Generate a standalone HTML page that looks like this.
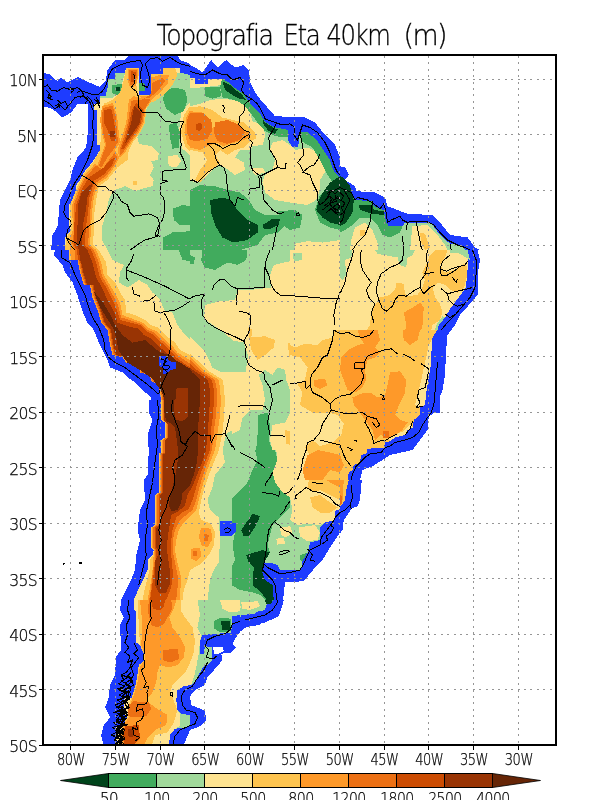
<!DOCTYPE html>
<html><head><meta charset="utf-8"><title>Topografia Eta 40km (m)</title>
<style>
html,body{margin:0;padding:0;background:#fff;}
body{width:600px;height:800px;overflow:hidden;position:relative;}
svg{position:absolute;left:0;top:0;display:block;}
.lbl text{font-family:"DejaVu Sans Light","DejaVu Sans","Liberation Sans",sans-serif;font-weight:200;font-size:15.5px;fill:#000;stroke:#000;stroke-width:0.25px;letter-spacing:-0.6px;}
.ttl{font-family:"DejaVu Sans Light","DejaVu Sans","Liberation Sans",sans-serif;font-weight:200;font-size:28px;fill:#000;stroke:#000;stroke-width:0.3px;letter-spacing:-1.6px;}
</style></head><body>
<svg width="600" height="800" viewBox="0 0 600 800">
<rect x="0" y="0" width="600" height="800" fill="#fff"/>
<defs><clipPath id="fr"><rect x="43" y="55" width="513" height="690"/></clipPath><clipPath id="cpM"><rect x="115" y="400" width="117" height="200"/></clipPath><clipPath id="cpS"><rect x="90" y="600" width="150" height="146"/></clipPath><clipPath id="cpP"><rect x="290" y="330" width="150" height="150"/></clipPath></defs>
<g clip-path="url(#fr)" shape-rendering="crispEdges">
<polygon points="43.0,73.2 48.8,73.8 57.5,81.2 61.2,77.5 67.5,82.5 77.5,77.0 86.2,81.2 100.0,87.0 105.5,81.2 107.5,70.0 115.0,60.0 125.0,60.0 128.8,56.2 140.0,55.0 177.5,55.0 180.0,60.0 190.0,63.8 190.0,250.0 51.2,250.0 52.5,235.0 55.5,230.0 58.0,225.0 58.8,212.5 60.0,200.0 65.0,190.0 70.0,180.0 72.5,170.0 77.5,157.5 86.2,147.5 87.5,135.0 87.5,103.8 77.5,103.8 71.2,112.5 62.5,117.5 52.5,108.8 43.0,106.2" fill="#1e3cff"/>
<polygon points="190.0,65.0 197.5,68.8 202.5,72.5 211.2,60.0 217.5,67.5 226.2,60.0 235.0,67.5 243.8,65.0 248.8,70.0 250.0,82.5 257.5,96.2 275.0,116.2 305.0,117.5 315.0,122.5 325.0,135.0 335.0,145.0 340.0,157.5 340.0,250.0 190.0,250.0" fill="#1e3cff"/>
<polygon points="340.0,166.2 345.0,167.5 348.8,175.0 345.0,180.0 355.0,186.2 356.2,191.2 375.0,192.5 385.0,197.5 387.5,206.2 397.5,210.0 407.5,213.8 432.5,215.0 440.0,222.5 450.0,235.0 467.5,237.5 475.0,247.5 480.0,250.0 340.0,250.0" fill="#1e3cff"/>
<polygon points="55.0,250.0 53.8,255.0 62.5,265.0 65.0,272.5 72.5,282.5 77.5,295.0 80.0,303.8 83.8,315.0 87.5,322.5 93.8,330.0 98.8,342.5 102.5,350.0 107.5,360.0 110.0,367.5 122.5,372.5 127.5,377.5 135.0,382.5 142.5,390.0 151.2,397.5 150.0,410.0 153.8,420.0 151.2,430.0 147.5,437.5 147.5,450.0 190.0,450.0 190.0,250.0" fill="#1e3cff"/>
<polygon points="340.0,250.0 477.5,250.0 480.0,260.0 477.5,275.0 477.5,295.0 470.0,303.8 460.0,315.0 455.0,325.0 447.5,335.0 446.2,350.0 445.0,375.0 442.5,390.0 438.8,400.0 435.0,410.0 432.5,416.2 427.5,420.0 426.2,435.0 420.0,445.0 415.0,450.0 340.0,450.0" fill="#1e3cff"/>
<polygon points="147.5,450.0 147.5,475.0 143.8,480.0 145.0,505.0 140.0,512.5 140.0,527.5 137.5,532.5 140.0,542.5 138.8,560.0 133.8,570.0 133.8,582.5 127.5,597.5 121.2,602.5 120.0,612.5 125.0,620.0 122.5,630.0 120.0,640.0 120.0,650.0 190.0,650.0 190.0,450.0" fill="#1e3cff"/>
<polygon points="190.0,450.0 340.0,450.0 340.0,532.5 330.0,547.5 322.5,560.0 315.0,567.5 303.8,581.2 285.0,582.5 282.5,605.0 278.8,616.2 265.0,622.5 247.5,626.2 238.8,632.5 236.2,642.5 237.5,647.5 227.5,650.0 190.0,650.0" fill="#1e3cff"/>
<polygon points="340.0,450.0 412.5,450.0 410.0,455.0 390.0,456.2 382.5,462.5 372.5,465.0 362.5,472.5 360.0,500.0 357.5,506.2 351.2,508.8 347.5,515.0 343.8,520.0 342.5,530.0 340.0,533.8" fill="#1e3cff"/>
<polygon points="120.0,600.0 120.0,610.0 123.8,617.5 120.0,627.5 120.0,650.0 115.0,657.5 115.0,672.5 107.5,687.5 106.2,700.0 103.8,710.0 108.8,717.5 102.5,725.0 101.2,735.0 105.0,745.0 190.0,745.0 190.0,600.0" fill="#1e3cff"/>
<polygon points="283.8,600.0 280.0,612.5 270.0,618.8 258.8,625.0 243.8,627.5 236.2,632.5 235.0,641.2 237.5,646.2 231.2,652.5 220.0,653.8 222.5,660.0 215.0,670.0 207.5,677.5 205.0,685.0 195.0,690.0 190.0,696.2 190.0,600.0" fill="#1e3cff"/>
<polygon points="190.0,701.2 196.2,706.2 205.0,710.0 205.5,720.0 200.0,726.2 190.0,730.0" fill="#1e3cff"/>
<polygon points="115.0,73.0 126.2,73.0 126.2,67.5 138.8,67.5 138.8,95.0 151.2,95.0 151.2,73.8 162.5,73.8 162.5,67.5 180.0,67.5 180.0,72.5 190.0,75.0 190.0,250.0 65.0,250.0 65.0,237.5 71.2,230.0 68.8,225.0 68.8,205.0 72.5,200.0 76.2,193.8 76.2,185.0 80.0,180.0 83.8,172.5 90.0,165.0 93.8,160.0 97.0,155.0 100.0,150.0 100.0,145.0 97.0,145.0 97.0,110.0 93.8,110.0 93.8,103.8 100.0,103.8 100.0,96.2 105.5,96.2 107.5,87.5 107.5,78.8 115.0,78.8" fill="#a1d99b"/>
<polygon points="190.0,77.5 195.0,77.5 195.0,83.8 207.5,83.8 207.5,78.8 222.5,78.8 230.0,83.2 235.0,88.2 243.2,93.2 250.0,103.2 260.0,113.2 265.0,121.8 273.2,126.8 288.2,130.0 288.2,140.0 291.8,146.8 298.2,146.8 300.0,131.8 306.8,131.8 316.8,140.0 323.2,150.0 330.0,160.0 333.2,170.0 340.0,178.2 340.0,250.0 190.0,250.0" fill="#a1d99b"/>
<polygon points="340.0,178.8 345.0,185.0 350.0,190.0 355.0,200.0 372.5,201.2 373.8,206.2 383.8,210.0 386.2,222.5 388.8,226.2 402.5,226.2 405.0,222.5 427.5,222.5 432.5,225.0 440.0,235.0 450.0,243.8 460.0,245.0 465.0,250.0 340.0,250.0" fill="#a1d99b"/>
<polygon points="68.8,250.0 68.8,260.0 77.5,260.0 80.0,272.5 83.8,285.0 90.0,285.0 92.5,297.5 97.5,310.0 101.2,322.5 107.5,330.0 110.0,345.0 112.5,355.0 122.5,357.5 126.2,362.5 140.0,365.0 140.0,372.5 150.0,375.0 151.2,381.2 157.5,383.8 160.0,392.5 162.5,410.0 165.0,425.0 162.5,430.0 162.5,450.0 190.0,450.0 190.0,250.0" fill="#a1d99b"/>
<polygon points="340.0,508.8 335.0,511.2 335.0,520.0 325.0,522.5 320.0,527.5 320.0,540.0 310.0,542.5 307.5,552.5 302.5,561.2 301.2,570.0 280.0,570.0 277.5,565.0 270.0,562.5 263.8,562.5 262.5,572.5 265.0,580.0 272.5,585.0 273.8,600.0 267.5,602.5 265.0,610.0 253.8,612.5 240.0,615.0 230.0,621.2 227.5,630.0 220.0,633.8 202.5,635.0 198.8,640.0 198.8,650.0 190.0,650.0 190.0,450.0 340.0,450.0" fill="#a1d99b"/>
<polygon points="267.5,600.0 265.0,608.8 257.5,610.0 255.0,613.8 241.2,615.0 240.0,618.8 230.0,620.0 227.5,632.5 205.0,633.8 202.5,641.2 198.8,642.5 198.8,650.0 205.0,651.2 203.8,665.0 200.0,670.0 195.0,675.0 190.0,680.0 190.0,600.0" fill="#a1d99b"/>
<polygon points="126.2,67.5 138.8,67.5 138.8,95.0 151.2,95.0 151.2,73.8 162.5,73.8 162.5,67.5 180.0,67.5 180.0,72.5 176.2,73.8 170.0,75.0 168.8,82.5 165.0,87.5 157.5,93.8 151.2,100.0 146.2,110.0 145.0,122.5 141.2,130.0 137.5,137.5 138.8,143.8 151.2,146.2 158.8,153.8 157.5,160.0 151.2,161.2 153.8,167.5 150.0,175.0 153.8,180.0 152.5,186.2 145.0,188.0 135.0,191.2 125.0,186.2 115.0,190.0 112.5,191.2 108.8,200.0 106.2,212.5 102.5,225.0 102.0,240.0 107.5,250.0 65.0,250.0 65.0,237.5 71.2,230.0 68.8,225.0 68.8,205.0 72.5,200.0 76.2,193.8 76.2,185.0 80.0,180.0 83.8,172.5 90.0,165.0 93.8,160.0 97.0,155.0 100.0,150.0 100.0,145.0 97.0,145.0 97.0,110.0 93.8,110.0 93.8,103.8 100.0,103.8 100.0,97.5 112.5,97.5 120.0,90.0 123.8,77.5" fill="#fee391"/>
<polygon points="167.5,156.2 177.5,155.0 181.2,161.2 176.2,167.5 168.8,166.2" fill="#fee391"/>
<polygon points="190.0,102.5 181.2,112.5 178.8,132.5 182.5,148.8 190.0,155.0" fill="#fee391"/>
<polygon points="190.0,78.0 195.0,78.0 195.0,83.8 207.5,83.8 207.5,78.8 222.0,78.8 222.5,85.0 212.5,86.2 200.0,87.5 190.0,87.5" fill="#fee391"/>
<polygon points="190.0,106.2 200.0,103.8 210.0,100.0 222.5,98.8 233.8,100.0 243.8,103.8 250.0,112.5 252.5,121.2 262.5,125.0 265.5,135.0 262.5,145.0 252.5,146.2 250.0,150.0 240.0,150.0 235.0,157.5 243.8,162.5 245.0,170.0 235.0,175.0 225.0,167.5 217.5,165.0 212.5,170.0 205.0,177.5 197.5,183.0 190.0,180.5" fill="#fee391"/>
<polygon points="272.5,142.5 282.5,140.0 290.0,145.0 295.0,150.0 307.5,147.5 317.5,152.5 325.0,160.0 326.2,170.0 320.0,180.0 320.0,190.0 316.2,200.0 307.5,205.0 290.0,202.5 275.0,200.0 265.0,192.5 262.5,182.5 265.0,175.0 272.5,170.0 275.0,160.0 270.0,150.0" fill="#fee391"/>
<polygon points="250.0,167.5 262.5,167.5 265.0,172.5 255.0,175.0" fill="#fee391"/>
<polygon points="295.0,243.8 307.5,241.2 322.5,242.5 340.0,240.0 340.0,250.0 295.0,250.0" fill="#fee391"/>
<polygon points="355.0,227.5 365.0,222.5 372.5,230.0 377.5,242.5 377.5,250.0 350.0,250.0 351.2,240.0" fill="#fee391"/>
<polygon points="412.5,226.2 427.5,225.0 437.5,235.0 445.0,245.0 447.5,250.0 410.0,250.0 411.2,237.5" fill="#fee391"/>
<polygon points="68.8,250.0 68.8,260.0 77.5,260.0 80.0,272.5 83.8,285.0 90.0,285.0 92.5,297.5 97.5,310.0 101.2,322.5 107.5,330.0 110.0,345.0 112.5,355.0 122.5,357.5 126.2,362.5 140.0,365.0 140.0,372.5 150.0,375.0 151.2,381.2 157.5,383.8 160.0,392.5 162.5,410.0 165.0,425.0 162.5,430.0 162.5,450.0 190.0,450.0 190.0,340.0 185.0,335.0 177.5,325.0 172.5,312.5 165.0,311.2 160.0,300.0 152.5,292.5 147.5,285.0 138.8,280.0 127.5,287.5 118.8,282.5 120.0,272.5 123.8,265.0 112.5,260.0 107.5,250.0" fill="#fee391"/>
<polygon points="190.0,250.0 340.0,250.0 340.0,450.0 190.0,450.0" fill="#fee391"/>
<polygon points="466.0,250.0 468.2,260.0 467.2,275.0 465.8,287.5 459.0,297.0 450.0,309.0 445.0,317.5 438.8,325.0 436.2,337.5 432.5,340.0 431.2,365.0 430.0,385.0 427.5,400.0 425.0,410.0 420.0,417.5 415.0,425.0 412.5,430.0 406.2,437.5 392.5,442.5 385.0,446.2 383.8,450.0 340.0,450.0 340.0,250.0" fill="#fee391"/>
<polygon points="157.5,450.0 157.5,492.5 153.8,495.0 153.8,527.5 151.2,530.0 151.2,550.0 147.5,567.5 143.8,580.0 140.0,586.2 140.0,600.0 133.8,600.0 133.8,608.8 136.2,610.0 136.2,622.5 133.8,635.0 133.8,643.8 137.5,645.0 137.5,650.0 190.0,650.0 190.0,450.0" fill="#fee391"/>
<polygon points="190.0,450.0 222.5,450.0 220.0,460.0 225.0,467.5 223.8,477.5 215.0,482.5 207.5,495.0 205.0,507.5 215.0,512.5 220.0,520.0 217.5,530.0 213.8,545.0 217.5,555.0 215.0,567.5 207.5,575.0 203.8,590.0 202.5,605.0 198.8,620.0 196.2,635.0 195.0,650.0 190.0,650.0" fill="#fee391"/>
<polygon points="276.2,450.0 277.5,460.0 272.5,472.5 275.0,482.5 282.5,492.5 290.0,497.5 292.5,510.0 290.0,520.0 297.5,525.0 307.5,523.8 320.0,525.0 325.0,522.5 335.0,520.0 335.0,511.2 340.0,508.8 340.0,450.0" fill="#fee391"/>
<polygon points="280.0,527.5 290.0,526.2 292.5,532.5 286.2,537.5 281.2,535.0" fill="#fee391"/>
<polygon points="298.8,527.5 315.0,525.0 320.0,532.5 317.5,540.0 307.5,541.2 300.0,536.2" fill="#fee391"/>
<polygon points="276.2,538.8 283.8,537.5 285.0,543.8 277.5,544.5" fill="#fee391"/>
<polygon points="221.2,602.5 237.5,600.0 241.2,607.5 235.0,612.5 223.8,611.2" fill="#fee391"/>
<polygon points="241.2,602.5 257.5,601.2 260.0,606.2 250.0,610.0 242.5,608.8" fill="#fee391"/>
<polygon points="367.5,450.0 365.0,456.2 358.8,461.2 352.5,470.0 350.0,475.0 346.2,490.0 345.0,500.0 342.5,503.8 340.0,506.2 340.0,450.0" fill="#fee391"/>
<polygon points="133.8,600.0 133.8,610.0 136.2,611.2 136.2,642.5 140.0,645.0 143.8,653.8 143.8,661.2 138.8,665.0 136.2,682.5 132.5,695.0 128.8,705.0 127.5,717.5 122.5,725.0 117.5,735.0 116.2,745.0 190.0,745.0 190.0,600.0" fill="#fee391"/>
<polygon points="190.0,615.0 197.5,617.5 197.5,633.8 201.2,635.0 200.0,642.5 202.5,652.5 201.2,665.0 198.8,670.0 195.0,675.0 190.0,680.0" fill="#fee391"/>
<polygon points="221.2,602.5 227.5,600.0 237.5,600.0 241.2,607.5 235.0,612.5 223.8,611.2" fill="#fee391"/>
<polygon points="241.2,602.5 257.5,601.2 260.0,606.2 250.0,610.0 242.5,608.8" fill="#fee391"/>
<polygon points="190.0,250.0 290.0,250.0 290.0,261.2 273.8,265.0 270.0,275.0 271.2,287.5 250.0,290.0 237.5,290.0 235.0,300.0 220.0,301.2 205.0,305.0 203.8,317.5 208.2,321.8 220.8,330.0 233.2,340.5 243.8,342.5 248.0,355.0 245.8,371.8 220.8,371.8 212.5,367.5 204.2,350.8 190.0,336.2" fill="#a1d99b"/>
<polygon points="258.8,375.0 265.0,370.0 272.5,375.0 277.5,367.5 285.0,370.0 286.2,380.0 290.0,390.0 291.2,400.0 290.0,412.5 285.0,422.5 272.5,425.0 270.0,440.0 272.5,450.0 222.5,450.0 225.0,440.0 230.0,435.0 240.0,430.0 242.5,417.5 250.0,410.0 262.5,410.0 265.0,400.0 262.5,385.0" fill="#a1d99b"/>
<polygon points="292.5,253.0 302.5,252.5 302.0,260.0 293.8,261.2" fill="#a1d99b"/>
<polygon points="340.0,250.0 352.5,250.0 351.2,257.5 345.0,260.0 346.2,275.0 342.5,280.0 340.0,277.5" fill="#a1d99b"/>
<polygon points="375.0,250.0 415.0,250.0 412.5,255.0 407.5,257.5 406.2,267.5 400.0,265.0 397.5,257.5 377.5,253.8" fill="#a1d99b"/>
<polygon points="445.0,317.5 438.8,325.0 436.2,337.5 432.5,340.0 431.2,365.0 430.0,385.0 427.5,400.0 425.0,410.0 422.5,410.0 425.0,397.5 427.5,385.0 428.8,365.0 430.0,345.0 433.8,335.0 436.2,325.0 442.5,316.2" fill="#a1d99b"/>
<polygon points="450.0,250.0 467.5,250.0 470.0,260.0 466.2,257.5 457.5,252.5 450.0,252.5" fill="#a1d99b"/>
<polygon points="178.8,713.8 190.0,712.5 190.0,727.5 180.0,726.2" fill="#a1d99b"/>
<polygon points="112.5,85.0 122.5,83.8 123.8,91.2 117.5,95.0 112.0,93.0" fill="#41ab5d"/>
<polygon points="138.8,82.5 145.0,83.8 145.0,91.2 138.8,91.2" fill="#41ab5d"/>
<polygon points="165.0,90.0 175.0,87.5 185.0,90.0 187.5,100.0 183.8,111.2 175.0,115.0 166.2,108.8 163.0,100.0" fill="#41ab5d"/>
<polygon points="168.8,125.0 176.2,122.5 180.0,132.5 178.8,147.5 172.5,148.8 170.0,137.5" fill="#41ab5d"/>
<polygon points="172.5,208.8 182.5,205.0 190.0,206.2 190.0,225.0 180.0,225.0 173.8,220.0" fill="#41ab5d"/>
<polygon points="162.5,237.5 172.5,232.5 190.0,231.2 190.0,250.0 162.5,250.0" fill="#41ab5d"/>
<polygon points="205.0,87.5 220.0,87.0 221.2,96.2 212.5,98.8 205.0,96.2" fill="#41ab5d"/>
<polygon points="222.0,78.8 230.0,83.2 235.0,88.2 243.2,93.2 250.0,103.2 260.0,113.2 265.0,121.8 273.2,126.8 288.2,130.0 288.2,137.5 275.0,136.2 265.0,131.2 257.5,122.5 250.0,112.5 243.8,105.0 237.5,101.2 230.0,98.8 222.5,97.5 220.0,87.5" fill="#41ab5d"/>
<polygon points="300.0,131.8 306.8,131.8 316.8,140.0 323.2,150.0 330.0,160.0 333.2,170.0 340.0,178.2 340.0,192.5 332.5,182.5 326.2,172.5 320.0,160.0 312.5,147.5 301.2,141.2" fill="#41ab5d"/>
<polygon points="190.0,190.0 200.0,185.0 215.0,186.2 227.5,190.0 240.0,192.5 248.8,200.0 255.0,210.0 265.0,215.0 282.5,215.0 285.0,225.0 277.5,232.5 265.0,235.0 257.5,245.0 240.0,250.0 190.0,250.0" fill="#41ab5d"/>
<polygon points="277.5,211.2 295.0,210.0 302.5,215.0 300.0,227.5 290.0,230.0 282.5,225.0" fill="#41ab5d"/>
<polygon points="315.0,210.0 320.0,195.0 330.0,185.0 340.0,182.5 340.0,230.0 330.0,227.5 320.0,222.5" fill="#41ab5d"/>
<polygon points="340.0,178.8 345.0,185.0 350.0,190.0 355.0,200.0 372.5,201.2 373.8,206.2 383.8,210.0 386.2,222.5 388.8,226.2 402.5,226.2 400.0,232.5 390.0,237.5 382.5,235.0 377.5,225.0 370.0,217.5 360.0,217.5 352.5,225.0 345.0,230.0 340.0,232.5" fill="#41ab5d"/>
<polygon points="178.8,250.0 190.0,250.0 190.0,261.2 182.5,260.0" fill="#41ab5d"/>
<polygon points="202.5,250.0 247.5,250.0 246.2,260.0 237.5,265.0 227.5,262.5 215.0,270.0 205.0,267.5 201.2,260.0" fill="#41ab5d"/>
<polygon points="190.0,255.0 195.0,257.5 193.8,263.8 190.0,263.8" fill="#41ab5d"/>
<polygon points="257.5,415.0 267.5,412.5 270.0,425.0 268.8,440.0 272.5,450.0 256.2,450.0 257.5,435.0" fill="#41ab5d"/>
<polygon points="255.0,450.0 275.0,450.0 277.5,460.0 272.5,472.5 275.0,482.5 282.5,492.5 290.0,497.5 290.0,507.5 282.5,515.0 272.5,525.0 270.0,535.0 267.5,545.0 270.0,552.5 263.8,562.5 262.5,572.5 265.0,580.0 272.5,585.0 273.8,600.0 267.5,602.5 260.0,595.0 252.5,592.5 240.0,590.0 231.2,585.0 230.0,570.0 235.0,560.0 232.5,545.0 235.0,532.5 228.8,515.0 227.5,502.5 237.5,492.5 247.5,482.5 252.5,470.0 257.5,460.0" fill="#41ab5d"/>
<polygon points="215.0,622.5 225.0,617.5 230.0,621.2 227.5,630.0 220.0,633.8 213.8,632.5" fill="#41ab5d"/>
<polygon points="300.0,555.0 307.5,552.5 302.5,561.2 300.0,560.0" fill="#41ab5d"/>
<polygon points="212.5,622.5 220.0,616.2 230.0,620.0 227.5,632.5 215.0,633.8 211.2,630.0" fill="#41ab5d"/>
<polygon points="116.2,87.5 120.5,87.0 120.0,91.2 116.2,91.5" fill="#00441b"/>
<polygon points="222.5,81.2 230.0,85.0 235.0,89.5 241.2,93.8 246.2,100.0 240.0,98.8 232.5,95.0 225.0,90.0" fill="#00441b"/>
<polygon points="262.5,118.8 265.0,122.5 273.2,127.5 277.5,129.5 275.0,133.8 268.8,131.2 263.8,125.0" fill="#00441b"/>
<polygon points="210.0,200.0 222.5,197.5 230.0,200.0 237.5,210.0 247.5,220.0 257.5,225.0 257.5,232.5 247.5,240.0 232.5,242.5 222.5,237.5 215.0,225.0 211.2,212.5" fill="#00441b"/>
<polygon points="262.5,225.0 272.5,218.8 280.0,218.8 278.8,225.0 270.0,228.8 263.8,228.8" fill="#00441b"/>
<polygon points="316.2,210.0 318.8,200.0 323.8,191.2 330.0,182.5 340.0,176.2 340.0,225.0 330.0,222.5 322.5,217.5" fill="#00441b"/>
<polygon points="340.0,176.2 345.0,178.8 350.0,186.2 353.8,200.0 352.5,212.5 346.2,222.5 340.0,226.2" fill="#00441b"/>
<polygon points="358.8,205.0 372.5,205.0 373.8,210.0 383.8,211.2 383.8,215.0 372.5,213.8 360.0,210.0" fill="#00441b"/>
<polygon points="241.2,530.0 252.5,513.8 260.0,516.2 256.2,525.0 248.8,536.2 243.8,536.2" fill="#00441b"/>
<polygon points="246.2,555.0 262.5,550.0 270.0,552.5 263.8,562.5 262.5,572.5 265.0,580.0 272.5,585.0 273.8,600.0 267.5,601.2 261.2,592.5 252.5,585.0 253.8,567.5 248.8,562.5" fill="#00441b"/>
<polygon points="221.2,622.5 227.5,621.2 226.2,630.0 221.2,630.5" fill="#00441b"/>
<polygon points="220.0,622.5 227.0,621.2 227.0,631.2 220.5,631.2" fill="#00441b"/>
<polygon points="265.0,600.0 272.5,600.0 271.2,603.8 266.2,603.8" fill="#00441b"/>
<polygon points="126.2,68.0 138.8,68.0 138.8,75.0 136.2,85.0 138.8,96.2 151.2,96.2 157.5,87.5 162.5,77.5 170.0,75.0 168.8,82.5 160.0,92.5 152.5,100.0 146.2,108.8 145.0,122.5 140.0,132.5 132.5,142.5 128.8,150.0 127.5,160.0 117.5,167.5 107.5,180.0 98.8,186.2 96.2,200.0 94.5,212.5 93.8,230.0 93.0,245.0 98.8,250.0 65.0,250.0 66.2,237.5 71.2,230.0 70.0,205.0 77.5,186.2 83.8,173.8 93.8,161.2 100.0,150.0 101.2,132.5 102.0,112.5 103.8,103.8 112.5,100.0 120.0,92.5 123.8,80.0" fill="#fec44f"/>
<polygon points="132.5,180.5 137.0,180.5 137.0,185.0 132.5,185.0" fill="#fec44f"/>
<polygon points="190.0,106.2 183.8,115.0 181.2,132.5 185.0,146.2 190.0,151.2" fill="#fec44f"/>
<polygon points="151.2,73.8 162.5,73.8 162.5,67.5 175.0,67.5 177.5,75.0 172.5,85.0 165.0,93.8 155.0,101.2 145.0,103.8 138.8,100.0 138.8,95.0 151.2,95.0" fill="#fec44f"/>
<polygon points="190.0,107.5 200.0,106.2 212.5,110.0 222.5,117.5 232.5,120.0 243.8,122.5 251.2,128.8 255.0,132.5 256.2,138.8 250.0,141.2 243.8,147.5 235.0,150.0 227.5,155.0 220.0,150.0 215.0,155.0 220.0,162.5 215.0,167.5 207.5,172.5 200.0,182.5 195.0,180.0 200.0,170.0 207.5,160.0 202.5,152.5 190.0,150.0" fill="#fec44f"/>
<polygon points="360.0,230.0 365.0,230.0 365.0,236.2 360.0,236.2" fill="#fec44f"/>
<polygon points="420.0,232.5 425.0,233.8 430.0,247.5 425.0,250.0 421.2,242.5" fill="#fec44f"/>
<polygon points="68.8,250.0 68.8,260.0 77.5,260.0 80.0,272.5 83.8,285.0 90.0,285.0 92.5,297.5 97.5,310.0 101.2,322.5 107.5,330.0 110.0,345.0 112.5,355.0 122.5,357.5 126.2,362.5 140.0,365.0 140.0,372.5 150.0,375.0 151.2,381.2 157.5,383.8 160.0,392.5 162.5,410.0 165.0,425.0 162.5,430.0 162.5,450.0 190.0,450.0 190.0,355.0 180.0,350.0 175.0,342.5 165.0,335.0 157.5,327.5 150.0,325.0 145.0,320.0 135.0,315.0 126.2,312.5 125.0,300.0 120.0,292.5 115.0,282.5 107.5,275.0 106.2,262.5 98.8,250.0" fill="#fec44f"/>
<polygon points="247.5,327.5 252.5,330.0 251.2,337.5 265.0,336.2 275.0,340.0 273.8,347.5 265.0,355.0 257.5,360.0 251.2,350.0" fill="#fec44f"/>
<polygon points="287.5,342.5 300.0,345.0 317.5,346.2 318.8,360.0 312.5,367.5 300.0,365.0 290.0,360.0" fill="#fec44f"/>
<polygon points="315.0,372.5 330.0,367.5 340.0,365.0 340.0,405.0 330.0,400.0 320.0,395.0 312.5,390.0 307.5,382.5" fill="#fec44f"/>
<polygon points="297.5,390.0 307.5,387.5 320.0,400.0 325.0,410.0 315.0,415.0 307.5,425.0 297.5,422.5 296.2,405.0" fill="#fec44f"/>
<polygon points="330.0,435.0 340.0,432.5 340.0,450.0 332.5,450.0" fill="#fec44f"/>
<polygon points="285.0,430.0 290.0,431.2 291.2,445.0 286.2,443.8" fill="#fec44f"/>
<polygon points="190.0,353.8 197.0,360.0 207.0,370.0 223.0,380.0 224.0,390.0 225.0,400.0 222.5,422.5 217.5,432.5 212.5,440.0 210.0,450.0 190.0,450.0" fill="#fec44f"/>
<polygon points="340.0,336.2 347.5,333.8 355.0,335.0 365.0,332.5 370.0,325.0 371.2,312.5 375.0,305.0 380.0,297.5 390.0,295.0 396.2,287.5 396.2,282.5 403.8,283.8 405.0,293.8 407.5,296.2 417.5,295.0 422.5,287.5 425.0,280.0 422.5,272.5 426.2,265.0 430.0,255.0 435.0,250.0 447.5,250.0 445.0,257.5 440.0,265.0 445.0,272.5 455.0,270.0 462.5,265.0 466.2,262.5 467.2,275.0 464.2,287.5 457.5,292.5 450.0,290.0 445.0,285.0 437.5,282.5 432.5,287.5 435.0,297.5 440.0,303.8 442.5,312.5 440.0,320.0 432.5,325.0 430.0,335.0 425.0,340.0 423.8,350.0 427.5,360.0 422.5,367.5 417.5,375.0 415.0,387.5 420.0,395.0 415.0,405.0 417.5,415.0 412.5,425.0 406.2,435.0 392.5,441.2 385.0,446.2 383.8,450.0 340.0,450.0 340.0,422.5 347.5,420.0 355.0,410.0 352.5,400.0 345.0,397.5 340.0,396.2" fill="#fec44f"/>
<polygon points="157.5,450.0 157.5,492.5 153.8,495.0 153.8,527.5 151.2,530.0 151.2,550.0 148.8,567.5 146.2,580.0 145.0,586.2 143.8,600.0 140.0,610.0 140.0,622.5 138.8,635.0 138.8,650.0 190.0,650.0 190.0,577.5 183.8,575.0 180.0,562.5 178.8,550.0 182.5,537.5 190.0,535.0 190.0,450.0" fill="#fec44f"/>
<polygon points="303.8,450.0 305.0,462.5 310.0,475.0 307.5,487.5 312.5,492.5 320.0,490.0 330.0,495.0 340.0,500.0 340.0,450.0" fill="#fec44f"/>
<polygon points="310.0,497.5 320.0,495.0 330.0,502.5 337.5,507.5 330.0,512.5 320.0,512.5 312.5,507.5" fill="#fec44f"/>
<polygon points="190.0,450.0 208.8,450.0 205.0,465.0 206.2,477.5 202.5,490.0 201.2,500.0 195.0,507.5 190.0,510.0" fill="#fec44f"/>
<polygon points="190.0,525.0 197.5,522.5 207.5,525.0 213.8,535.0 212.5,545.0 205.0,550.0 202.5,560.0 195.0,565.0 190.0,562.5" fill="#fec44f"/>
<polygon points="355.0,450.0 351.2,460.0 350.0,475.0 346.2,490.0 345.0,500.0 342.5,503.8 340.0,506.2 340.0,450.0" fill="#fec44f"/>
<polygon points="136.2,600.0 138.8,625.0 140.0,645.0 143.8,653.8 143.8,661.2 138.8,665.0 136.2,682.5 132.5,695.0 128.8,705.0 127.5,717.5 122.5,725.0 120.0,735.0 118.8,745.0 165.0,745.0 170.0,732.5 165.0,725.0 162.5,710.0 163.8,695.0 165.0,685.0 176.2,683.8 182.5,675.0 190.0,672.5 190.0,632.5 182.5,633.8 175.0,627.5 172.5,615.0 176.2,600.0" fill="#fec44f"/>
<polygon points="190.0,641.2 195.0,642.5 197.5,650.0 195.0,658.8 190.0,660.0" fill="#fec44f"/>
<polygon points="190.0,110.0 186.2,117.5 184.5,132.5 187.5,143.8 190.0,146.2" fill="#fe9929"/>
<polygon points="151.2,77.5 160.0,75.0 168.8,75.0 167.5,83.8 160.0,92.5 152.5,98.8 142.5,101.2 140.0,96.2 151.2,95.5" fill="#fe9929"/>
<polygon points="102.0,106.2 113.0,103.0 117.0,115.0 118.5,130.0 120.0,142.5 115.0,150.0 107.5,160.0 101.2,170.0 96.2,168.8 101.2,155.0 105.0,145.0 102.0,132.5 100.0,120.0" fill="#fe9929"/>
<polygon points="127.5,68.8 138.0,68.8 138.0,77.5 135.5,86.2 130.0,87.5 127.5,80.0" fill="#fe9929"/>
<polygon points="133.8,96.2 138.8,97.5 150.0,97.5 152.5,98.8 145.5,108.8 143.8,122.5 138.8,132.5 131.2,142.5 125.0,152.5 119.5,157.5 117.5,150.0 122.5,135.0 126.2,122.5 128.0,107.5 128.8,100.0" fill="#fe9929"/>
<polygon points="101.2,170.0 107.5,160.0 115.0,150.0 119.5,157.5 115.0,166.2 107.0,177.5 98.0,183.8 93.8,197.5 92.0,212.5 91.2,225.0 90.0,245.0 96.2,250.0 70.0,250.0 69.0,240.0 73.0,230.0 72.0,205.0 78.8,187.5 85.0,175.0 95.0,163.8" fill="#fe9929"/>
<polygon points="190.0,111.2 202.5,112.5 210.0,120.0 212.5,127.5 222.5,122.5 232.5,122.5 240.0,127.5 248.8,132.5 250.0,137.5 240.0,141.2 230.0,143.8 222.5,146.2 217.5,142.5 207.5,146.2 200.0,150.0 190.0,147.5" fill="#fe9929"/>
<polygon points="70.0,250.0 71.2,260.0 77.5,260.0 80.0,272.5 83.8,285.0 90.0,285.0 92.5,297.5 97.5,310.0 101.2,322.5 107.5,330.0 110.0,345.0 112.5,355.0 122.5,357.5 126.2,362.5 140.0,365.0 140.0,372.5 150.0,375.0 151.2,381.2 157.5,383.8 160.0,392.5 162.5,410.0 165.0,425.0 162.5,430.0 162.5,450.0 190.0,450.0 190.0,360.0 177.5,352.5 172.5,346.2 162.5,337.5 156.2,331.2 147.5,327.5 142.5,322.5 132.5,318.8 122.5,315.0 120.0,302.5 115.0,293.8 110.0,285.0 103.8,275.0 101.2,262.5 96.2,250.0" fill="#fe9929"/>
<polygon points="315.0,380.0 326.2,378.8 327.5,386.2 315.0,387.0" fill="#fe9929"/>
<polygon points="190.0,356.2 193.0,360.0 203.0,370.0 219.0,380.0 220.0,390.0 221.0,400.0 220.0,422.5 215.0,432.5 211.2,440.0 207.5,450.0 190.0,450.0" fill="#fe9929"/>
<polygon points="403.8,312.5 412.5,307.5 420.0,302.5 423.8,307.5 422.5,325.0 420.0,335.0 412.5,345.0 406.2,347.5 403.8,337.5 406.2,325.0" fill="#fe9929"/>
<polygon points="340.0,342.5 350.0,346.2 355.0,343.8 362.5,350.0 365.0,360.0 366.2,375.0 361.2,385.0 365.0,390.0 377.5,388.8 386.2,380.0 390.0,372.5 400.0,370.0 406.2,380.0 407.5,392.5 403.8,400.0 405.0,410.0 400.0,415.0 397.5,425.0 390.0,435.0 382.5,440.0 372.5,442.5 367.5,435.0 363.8,425.0 362.5,415.0 357.5,410.0 352.5,402.5 350.0,400.0 340.0,397.5" fill="#fe9929"/>
<polygon points="157.5,450.0 157.5,492.5 154.0,495.0 154.0,527.5 151.8,530.0 151.8,550.0 150.0,567.5 148.0,580.0 147.0,590.0 146.2,600.0 143.8,612.5 143.0,625.0 141.2,637.5 141.2,650.0 162.5,650.0 165.0,640.0 170.0,630.0 175.0,620.0 180.0,605.0 182.5,590.0 180.0,580.0 176.2,575.0 177.5,562.5 176.2,550.0 180.0,537.5 190.0,532.5 190.0,450.0" fill="#fe9929"/>
<polygon points="310.0,450.0 312.5,465.0 320.0,475.0 330.0,482.5 340.0,487.5 340.0,450.0" fill="#fe9929"/>
<polygon points="190.0,450.0 205.5,450.0 202.5,465.0 203.0,477.5 200.0,490.0 197.5,500.0 192.5,505.0 190.0,506.2" fill="#fe9929"/>
<polygon points="200.0,532.5 208.8,533.8 210.0,541.2 203.8,545.0 200.0,540.0" fill="#fe9929"/>
<polygon points="191.2,548.8 200.0,548.8 198.8,557.5 192.5,560.0" fill="#fe9929"/>
<polygon points="345.0,450.0 346.2,465.0 343.8,480.0 342.5,500.0 340.0,502.5 340.0,450.0" fill="#fe9929"/>
<polygon points="140.0,600.0 142.5,625.0 141.2,645.0 144.5,653.8 144.5,661.2 140.0,666.2 137.5,682.5 133.8,695.0 130.0,705.0 128.8,717.5 123.8,725.0 121.2,735.0 120.0,745.0 147.5,745.0 151.2,735.0 160.0,725.0 170.0,717.5 165.0,710.0 157.5,705.0 155.0,695.0 157.5,685.0 155.0,675.0 157.5,665.0 170.0,666.2 180.0,662.5 183.8,652.5 180.0,642.5 172.5,632.5 165.0,625.0 160.0,615.0 162.5,600.0" fill="#fe9929"/>
<polygon points="190.0,645.0 192.5,646.2 192.5,653.8 190.0,653.8" fill="#fe9929"/>
<polygon points="152.5,82.5 162.5,77.5 165.0,81.2 157.5,91.2 150.0,97.5 143.8,98.8 151.2,93.8" fill="#ec7014"/>
<polygon points="103.0,108.0 112.5,105.5 115.5,116.2 117.0,131.2 118.0,142.0 113.8,148.8 107.0,158.0 102.0,167.0 98.8,166.2 102.5,155.0 106.2,145.0 103.2,132.5 101.5,120.0" fill="#ec7014"/>
<polygon points="128.8,70.0 137.0,70.0 136.5,78.0 134.0,84.5 130.5,85.0 128.8,78.8" fill="#ec7014"/>
<polygon points="135.0,99.5 138.0,100.0 148.8,98.8 150.0,100.0 144.5,109.5 142.5,122.5 137.5,132.0 130.0,142.0 124.5,150.5 120.0,155.0 119.5,150.0 124.5,135.0 128.0,122.5 130.0,108.8 131.2,101.2" fill="#ec7014"/>
<polygon points="102.5,169.5 108.0,161.2 114.5,153.0 117.5,158.0 113.8,165.5 105.5,176.2 96.5,182.5 92.0,197.5 90.0,212.5 89.5,225.0 88.0,245.0 93.8,250.0 74.5,250.0 72.0,242.5 74.5,230.0 73.8,205.0 80.0,188.0 86.2,176.2 96.2,165.5" fill="#ec7014"/>
<polygon points="190.0,112.5 202.5,112.5 211.2,120.0 212.5,130.0 207.5,138.8 197.5,141.2 190.0,140.0" fill="#ec7014"/>
<polygon points="215.0,122.5 227.5,120.0 240.0,125.0 245.0,132.5 240.0,140.0 227.5,143.8 217.5,141.2 213.8,132.5" fill="#ec7014"/>
<polygon points="190.0,112.5 187.5,118.8 187.0,132.5 190.0,140.0" fill="#ec7014"/>
<polygon points="74.5,250.0 75.5,260.0 78.8,260.5 81.2,272.5 85.0,285.0 91.2,285.0 93.8,297.5 98.8,310.0 102.5,322.5 108.8,330.0 111.2,345.0 113.8,355.0 123.8,357.5 127.5,362.5 141.2,365.0 141.2,372.5 151.2,375.0 152.5,381.2 158.8,383.8 161.2,392.5 163.8,410.0 166.2,425.0 163.8,430.0 163.8,450.0 190.0,450.0 190.0,363.8 177.0,355.0 171.2,348.0 161.2,339.5 155.0,333.0 147.0,329.5 141.2,323.8 131.2,320.5 121.2,317.5 118.0,305.0 113.0,295.5 108.0,286.2 102.0,276.2 98.8,262.5 93.8,250.0" fill="#ec7014"/>
<polygon points="190.0,360.0 200.0,370.0 215.0,380.0 217.0,390.0 217.0,400.0 216.2,423.8 212.5,433.8 208.8,445.0 207.0,450.0 190.0,450.0" fill="#ec7014"/>
<polygon points="383.0,433.8 388.8,433.8 388.8,438.8 383.0,438.8" fill="#ec7014"/>
<polygon points="158.0,450.0 158.0,492.5 154.5,495.0 154.5,527.5 152.5,530.0 152.5,550.0 151.2,567.5 150.0,580.0 149.0,590.0 148.2,600.0 146.2,612.5 145.0,625.0 143.0,637.5 142.5,650.0 157.5,650.0 158.8,640.0 162.5,630.0 165.0,620.0 172.5,610.0 177.5,600.0 178.8,590.0 175.0,580.0 171.2,570.0 172.5,555.0 175.0,540.0 180.0,525.0 186.2,515.0 190.0,512.5 190.0,450.0" fill="#ec7014"/>
<polygon points="190.0,450.0 203.0,450.0 200.5,465.0 201.0,477.5 197.5,490.0 193.8,500.0 190.0,502.5" fill="#ec7014"/>
<polygon points="203.8,536.2 207.5,537.0 207.0,540.5 203.8,540.0" fill="#ec7014"/>
<polygon points="193.0,551.2 197.0,551.2 196.5,555.0 193.0,555.0" fill="#ec7014"/>
<polygon points="340.0,495.0 342.0,496.2 342.0,503.8 340.0,505.0" fill="#ec7014"/>
<polygon points="147.5,600.0 157.5,600.0 158.0,612.5 152.5,625.0 145.0,632.5 143.8,620.0" fill="#ec7014"/>
<polygon points="165.0,651.2 178.8,650.0 180.0,660.0 170.0,662.5 163.8,658.8" fill="#ec7014"/>
<polygon points="127.5,705.0 135.0,700.0 147.5,701.2 151.2,707.5 145.0,715.0 135.0,717.5 127.5,716.2" fill="#ec7014"/>
<polygon points="104.5,110.0 111.2,108.8 113.8,120.0 115.5,132.5 115.5,141.2 111.2,141.2 107.5,130.0 103.8,122.5" fill="#cc4c02"/>
<polygon points="130.5,71.2 136.2,72.0 135.0,78.8 133.0,82.5 131.0,81.2" fill="#cc4c02"/>
<polygon points="136.2,103.0 143.0,110.0 141.2,122.5 136.2,131.2 129.5,140.0 123.8,148.8 121.2,148.8 126.2,135.0 129.5,122.5 132.0,110.0" fill="#cc4c02"/>
<polygon points="103.8,167.5 110.0,160.0 115.0,157.5 112.0,165.0 103.8,174.5 94.5,180.5 89.5,197.5 88.0,212.5 86.2,225.0 84.5,245.0 91.2,250.0 77.0,250.0 74.0,245.0 73.8,230.0 76.2,205.0 82.0,188.8 88.8,177.5" fill="#cc4c02"/>
<polygon points="196.2,123.8 201.2,123.0 202.5,128.0 198.8,131.2 195.5,128.8" fill="#cc4c02"/>
<polygon points="77.0,250.0 78.0,260.0 80.0,261.2 82.5,272.5 86.2,285.0 92.5,285.0 95.0,297.5 100.0,310.0 103.8,322.5 110.0,330.0 112.5,345.0 115.0,355.0 125.0,357.5 128.8,362.5 142.5,365.0 142.5,372.5 152.5,375.0 153.8,381.2 160.0,383.8 162.5,392.5 165.0,410.0 167.5,425.0 165.0,430.0 165.0,450.0 190.0,450.0 190.0,367.5 176.2,357.5 170.0,350.0 160.0,341.2 153.8,335.0 146.2,331.2 140.0,325.0 130.0,322.5 120.0,320.0 116.2,307.5 111.2,297.5 106.2,287.5 100.0,277.5 96.2,262.5 91.2,250.0" fill="#cc4c02"/>
<polygon points="190.0,363.8 197.0,370.0 212.0,380.0 214.0,390.0 214.0,400.0 213.8,425.0 210.0,435.0 206.2,450.0 190.0,450.0" fill="#cc4c02"/>
<polygon points="159.0,450.0 159.0,492.5 155.5,496.2 155.5,527.5 153.8,531.2 153.8,550.0 153.0,567.5 152.0,580.0 151.2,590.0 150.5,600.0 148.8,612.5 147.5,625.0 146.2,640.0 153.8,640.0 156.2,630.0 158.8,620.0 162.5,612.5 170.0,605.0 176.2,597.5 175.0,590.0 170.0,580.0 166.2,567.5 167.5,550.0 170.0,535.0 175.0,522.5 182.5,510.0 190.0,506.2 190.0,450.0" fill="#cc4c02"/>
<polygon points="190.0,450.0 201.2,450.0 198.8,465.0 198.0,477.5 193.8,487.5 190.0,492.5" fill="#cc4c02"/>
<polygon points="126.2,725.0 140.0,725.0 141.2,740.0 135.0,745.0 125.0,745.0 123.8,735.0" fill="#cc4c02"/>
<polygon points="110.0,130.5 114.5,131.2 114.5,137.5 110.5,137.0" fill="#993404"/>
<polygon points="134.5,106.2 141.2,112.5 140.0,122.5 135.0,130.0 128.8,138.8 125.0,143.8 127.5,133.8 131.2,122.5 133.0,112.5" fill="#993404"/>
<polygon points="81.2,193.8 88.0,186.2 92.5,183.8 87.5,197.5 85.5,212.5 83.0,225.0 82.0,245.0 87.5,250.0 79.0,250.0 76.5,245.0 77.5,225.0 78.0,205.0" fill="#993404"/>
<polygon points="79.0,250.0 80.0,260.0 81.2,262.5 83.5,272.5 87.2,285.0 93.5,285.0 96.0,297.5 101.0,310.0 104.8,322.5 111.0,330.0 113.5,345.0 116.0,355.0 126.0,357.5 129.8,362.5 143.5,365.0 143.5,372.5 153.5,375.0 154.8,381.2 161.0,383.8 163.5,392.5 166.0,410.0 168.5,425.0 166.0,430.0 166.0,450.0 190.0,450.0 190.0,375.0 180.0,367.5 173.8,361.2 167.5,353.8 157.5,345.0 151.2,338.8 143.8,335.0 138.8,328.8 127.5,326.2 117.5,322.5 113.8,311.2 107.5,300.0 102.5,288.8 96.2,277.5 92.5,262.5 87.5,250.0" fill="#993404"/>
<polygon points="190.0,367.5 193.0,370.0 208.0,380.0 210.0,390.0 210.0,400.0 207.5,425.0 203.8,437.5 202.5,450.0 190.0,450.0" fill="#993404"/>
<polygon points="160.0,450.0 160.0,492.5 156.5,497.5 156.5,527.5 155.0,532.5 155.0,550.0 154.5,567.5 153.8,580.0 153.0,590.0 153.8,600.0 160.0,600.0 167.5,597.5 170.0,592.5 165.0,580.0 162.5,567.5 163.0,550.0 165.0,535.0 170.0,522.5 176.2,512.5 185.0,503.8 190.0,500.0 190.0,450.0" fill="#993404"/>
<polygon points="190.0,450.0 199.5,450.0 197.0,465.0 193.8,475.0 190.0,480.0" fill="#993404"/>
<polygon points="127.5,728.8 137.5,728.8 138.0,737.5 130.0,740.0" fill="#993404"/>
<polygon points="93.8,291.2 98.8,297.5 103.8,303.8 111.2,316.2 115.0,325.0 122.5,335.0 132.5,342.5 145.0,340.0 152.5,346.2 160.0,352.5 170.0,355.0 177.5,362.5 180.0,380.0 176.2,390.0 175.0,405.0 176.2,435.0 175.0,450.0 166.2,450.0 167.5,435.0 166.2,425.0 165.0,410.0 163.8,397.5 162.0,392.5 152.5,378.8 140.0,370.0 127.5,362.5 123.2,356.8 118.2,350.0 116.8,340.0 113.2,328.2 106.8,318.2 100.0,306.8 95.0,295.0" fill="#662506"/>
<polygon points="180.0,425.0 190.0,422.5 190.0,450.0 181.2,450.0" fill="#662506"/>
<polygon points="190.0,369.5 192.5,372.5 200.0,380.0 200.5,390.0 200.0,400.0 197.5,415.0 193.8,417.5 190.0,417.5" fill="#662506"/>
<polygon points="175.0,360.0 180.0,362.5 190.0,368.8 190.0,400.0 188.0,400.0 188.0,388.0 175.0,388.0" fill="#662506"/>
<polygon points="161.2,450.0 170.0,450.0 170.0,465.5 180.0,465.0 190.0,463.8 190.0,497.5 182.5,501.2 175.0,508.8 167.5,515.0 162.5,525.0 157.5,525.0 157.0,512.5 158.8,500.0 162.0,492.5" fill="#662506"/>
<polygon points="190.0,450.0 196.2,450.0 194.5,462.5 190.0,470.0" fill="#662506"/>
<polygon points="159.5,356.2 167.5,356.2 168.8,361.2 176.2,362.5 176.2,368.8 170.0,370.0 167.5,373.8 162.5,373.8 162.5,367.5 158.8,366.2" fill="#1e3cff"/>
<polygon points="220.0,522.5 236.2,522.5 236.2,531.2 231.2,536.2 222.5,536.2 220.0,530.0" fill="#1e3cff"/>
<polygon points="176.2,683.8 190.0,683.8 190.0,712.5 180.0,712.5 176.2,705.0" fill="#1e3cff"/>
<polygon points="167.5,728.8 175.0,727.5 180.0,725.0 190.0,726.2 190.0,745.0 166.2,745.0" fill="#1e3cff"/>
<g clip-path="url(#cpM)">
<rect x="115" y="400" width="117" height="200" fill="#fff"/>
<polygon points="148.8,400.0 148.8,412.5 152.5,420.0 147.5,435.0 148.8,450.0 147.5,475.0 143.8,480.0 145.0,500.0 140.0,510.0 137.5,530.0 140.0,540.0 136.2,555.0 135.0,570.0 130.0,582.5 126.2,590.0 121.2,600.0 232.5,600.0 232.5,400.0" fill="#1e3cff"/>
<polygon points="161.2,400.0 161.2,420.0 165.0,422.5 165.0,437.5 161.2,440.0 161.2,452.5 158.8,453.8 158.8,492.5 155.0,495.0 155.0,525.0 151.2,527.5 151.2,547.5 153.8,550.0 152.5,555.0 147.5,560.0 147.5,570.0 143.0,580.0 138.0,590.0 133.8,600.0 232.5,600.0 232.5,400.0" fill="#a1d99b"/>
<polygon points="161.2,400.0 161.2,420.0 165.0,422.5 165.0,437.5 161.2,440.0 161.2,452.5 158.8,453.8 158.8,492.5 155.0,495.0 155.0,525.0 151.2,527.5 151.2,547.5 153.8,550.0 152.5,555.0 147.5,560.0 147.5,570.0 143.0,580.0 138.0,590.0 133.8,600.0 207.5,600.0 210.0,580.0 213.8,570.0 218.8,562.5 220.0,540.0 218.8,517.5 210.0,510.0 207.5,500.0 212.5,487.5 215.0,475.0 225.0,462.5 222.5,450.0 226.2,433.8 232.5,430.0 232.5,400.0" fill="#fee391"/>
<polygon points="161.2,400.0 161.2,420.0 165.0,422.5 165.0,437.5 161.2,440.0 161.2,452.5 158.8,453.8 158.8,492.5 155.0,495.0 155.0,525.0 151.2,527.5 151.2,547.5 153.8,550.0 153.0,555.0 150.0,560.0 149.5,570.0 147.0,580.0 144.5,590.0 142.5,600.0 182.5,600.0 183.8,590.0 187.5,580.0 190.0,570.0 201.2,563.8 208.8,555.0 213.8,545.0 215.0,532.5 211.2,523.8 201.2,520.0 198.8,512.5 201.2,500.0 204.5,487.5 208.8,475.0 213.8,462.5 219.0,450.0 223.0,430.0 224.0,415.0 225.0,400.0" fill="#fec44f"/>
<polygon points="162.0,400.0 162.0,420.0 165.8,422.5 165.8,437.5 162.0,440.0 162.0,452.5 159.5,453.8 159.5,492.5 155.8,495.0 155.8,525.0 152.0,527.5 152.0,547.5 154.5,550.0 154.0,555.0 152.5,560.0 152.5,570.0 151.2,580.0 149.5,590.0 147.5,600.0 179.5,600.0 180.5,587.5 180.5,575.0 177.5,562.5 175.0,550.0 176.2,540.0 178.8,530.0 183.8,522.5 190.0,516.2 196.2,510.0 198.8,500.0 202.0,487.5 205.5,475.0 210.0,462.5 215.0,450.0 218.0,430.0 220.0,415.0 221.0,400.0" fill="#fe9929"/>
<polygon points="201.2,527.5 211.2,528.8 212.0,540.0 207.5,547.5 201.2,545.0 198.8,536.2" fill="#fe9929"/>
<polygon points="191.2,548.8 200.0,547.5 201.2,556.2 196.2,561.2 191.2,558.8" fill="#fe9929"/>
<polygon points="163.2,400.0 163.2,420.0 167.0,422.5 167.0,437.5 163.2,440.0 163.2,452.5 160.8,453.8 160.8,492.5 157.0,495.0 157.0,525.0 153.2,527.5 153.2,547.5 155.5,550.0 155.0,560.0 153.0,570.0 152.0,580.0 150.8,590.0 149.2,600.0 176.2,600.0 177.5,587.5 177.5,575.0 175.0,562.5 172.5,550.0 173.0,540.0 175.0,530.0 180.0,520.0 186.2,515.0 192.5,510.0 196.2,500.0 199.5,487.5 203.0,475.0 207.5,462.5 212.0,450.0 214.0,430.0 216.0,415.0 217.0,400.0" fill="#ec7014"/>
<polygon points="203.8,533.8 208.8,535.0 208.0,541.2 203.8,541.2" fill="#ec7014"/>
<polygon points="193.0,551.2 197.5,551.2 197.0,556.2 193.0,556.2" fill="#ec7014"/>
<polygon points="164.8,400.0 164.8,420.0 168.5,422.5 168.5,437.5 164.8,440.0 164.8,452.5 162.2,453.8 162.2,492.5 158.5,495.0 158.5,525.0 154.8,527.5 154.8,547.5 156.5,550.0 155.8,560.0 154.0,570.0 153.0,580.0 151.5,590.0 150.0,600.0 166.2,600.0 171.2,587.5 173.0,575.0 172.0,562.5 170.5,550.0 171.2,540.0 172.5,530.0 176.2,517.5 182.5,512.5 188.8,508.8 192.5,500.0 196.2,487.5 200.0,475.0 205.0,462.5 210.0,450.0 211.0,430.0 213.0,415.0 214.0,400.0" fill="#cc4c02"/>
<polygon points="163.8,400.0 163.8,420.0 167.5,423.8 167.5,437.5 164.5,441.2 164.5,453.8 162.5,455.0 162.5,492.5 159.5,496.2 159.5,525.0 156.2,528.8 156.2,547.5 158.0,550.0 157.5,556.2 154.5,561.2 155.0,575.0 155.0,585.0 158.8,592.5 166.2,592.5 169.5,585.0 170.5,575.0 168.8,562.5 167.0,550.0 167.5,540.0 168.8,530.0 171.2,515.0 178.8,511.2 185.0,505.0 187.5,495.0 192.5,486.2 197.0,475.0 202.0,462.5 206.0,450.0 208.0,430.0 209.0,415.0 210.0,400.0" fill="#993404"/>
<polygon points="164.0,400.0 174.0,400.0 174.5,412.5 176.0,420.0 182.0,421.2 187.5,417.5 188.0,400.0 200.0,400.0 199.0,415.0 198.0,430.0 198.0,450.0 197.0,462.5 193.8,475.0 190.0,485.0 182.5,492.5 181.2,502.5 177.5,510.0 171.2,511.2 168.8,505.0 170.5,495.0 173.0,485.0 175.5,475.0 177.5,462.5 178.0,450.0 176.5,437.5 175.0,427.5 171.2,423.8 166.2,421.2 164.5,412.5" fill="#662506"/>
<polygon points="220.0,521.2 236.2,521.2 236.2,536.2 220.0,536.2" fill="#1e3cff"/>
</g>
<g clip-path="url(#cpS)">
<rect x="90" y="600" width="150" height="146" fill="#fff"/>
<polygon points="121.2,600.0 120.0,610.0 123.8,617.5 120.0,625.0 121.2,650.0 116.2,656.2 115.0,675.0 110.0,685.0 108.8,697.5 105.0,707.5 110.0,717.5 103.8,725.0 101.2,735.0 103.8,747.5 182.5,747.5 187.5,736.2 190.0,730.0 200.0,726.2 206.2,720.0 205.0,711.2 197.5,707.5 191.2,705.0 190.0,696.2 195.0,690.0 205.0,685.0 207.5,677.5 215.0,668.8 222.5,660.0 221.2,653.8 231.2,652.5 236.2,647.5 232.5,643.8 237.5,635.0 240.0,632.5 240.0,600.0" fill="#1e3cff"/>
<polygon points="213.0,647.5 222.5,646.5 223.8,651.2 218.8,653.8 214.5,653.8" fill="#ffffff"/>
<polygon points="133.8,600.0 133.8,610.0 136.2,611.2 136.2,642.5 140.0,645.0 143.8,653.8 143.8,661.2 138.8,665.0 136.2,682.5 132.5,695.0 128.8,705.0 127.5,717.5 122.5,725.0 117.5,735.0 116.2,747.5 168.8,747.5 170.0,735.0 175.0,728.8 185.0,727.5 190.0,725.0 190.0,715.0 181.2,713.8 177.5,710.0 176.2,700.0 177.5,690.0 183.8,686.2 191.2,685.0 196.2,680.0 200.0,672.5 203.8,666.2 207.5,665.5 212.0,660.0 212.0,647.5 205.0,646.2 203.8,653.8 200.0,653.8 200.0,641.2 202.5,635.0 231.2,632.5 232.5,616.2 240.0,615.0 240.0,600.0" fill="#a1d99b"/>
<polygon points="133.8,600.0 133.8,610.0 136.2,611.2 136.2,642.5 140.0,645.0 143.8,653.8 143.8,661.2 138.8,665.0 136.2,682.5 132.5,695.0 128.8,705.0 127.5,717.5 122.5,725.0 117.5,735.0 116.2,747.5 168.8,747.5 170.0,735.0 175.0,728.8 180.0,726.2 180.0,713.8 177.5,710.0 176.2,700.0 177.5,690.0 183.8,686.2 191.2,685.0 193.8,677.5 196.2,667.5 198.0,657.5 198.8,653.8 200.0,641.2 201.2,635.0 197.5,627.5 200.0,615.0 197.5,600.0" fill="#fee391"/>
<polygon points="220.0,600.0 240.0,600.0 240.0,611.2 230.0,612.5 222.5,608.8" fill="#fee391"/>
<polygon points="123.8,698.8 131.2,697.5 130.0,710.0 127.5,717.5 123.8,715.0" fill="#fee391"/>
<polygon points="116.2,726.2 123.8,723.8 125.0,735.0 121.2,743.8 116.2,741.2" fill="#fee391"/>
<polygon points="213.8,621.2 221.2,617.5 231.2,618.8 231.2,631.2 220.0,632.5 214.5,628.8" fill="#41ab5d"/>
<polygon points="221.2,621.2 230.0,620.5 229.5,630.0 222.0,630.0" fill="#00441b"/>
<polygon points="137.5,600.0 138.8,625.0 140.0,645.0 143.8,653.8 143.8,661.2 138.8,665.0 136.2,682.5 132.5,695.0 128.8,705.0 127.5,717.5 122.5,725.0 120.0,735.0 118.8,747.5 151.2,747.5 155.0,735.0 167.5,732.5 173.8,722.5 177.5,710.0 172.5,697.5 170.0,692.5 172.5,685.0 177.5,680.0 185.0,672.5 190.0,662.5 193.8,652.5 195.0,640.0 192.5,627.5 185.0,617.5 180.5,610.0 181.2,600.0" fill="#fec44f"/>
<polygon points="140.0,600.0 142.5,625.0 141.2,645.0 144.5,653.8 144.5,661.2 140.0,666.2 137.5,682.5 133.8,695.0 130.0,705.0 128.8,717.5 123.8,725.0 121.2,735.0 120.0,747.5 143.8,747.5 146.2,740.0 155.0,730.0 166.2,725.0 167.5,715.0 155.0,707.5 146.2,700.0 152.5,692.5 156.2,682.5 157.5,672.5 160.0,665.0 167.5,667.5 177.5,665.0 183.8,657.5 185.0,647.5 180.0,637.5 172.5,627.5 169.5,617.5 173.8,608.8 176.2,600.0" fill="#fe9929"/>
<polygon points="148.8,600.0 171.2,600.0 172.5,607.5 168.8,615.0 163.8,623.8 157.5,627.5 151.2,625.0 148.0,612.5" fill="#ec7014"/>
<polygon points="162.5,650.0 177.5,648.8 179.5,658.8 170.0,662.5 162.5,660.0" fill="#ec7014"/>
<polygon points="128.8,705.0 133.8,701.2 148.8,702.5 151.2,708.8 146.2,716.2 135.0,717.5 128.0,716.2" fill="#ec7014"/>
<polygon points="150.8,600.0 165.0,600.0 164.0,606.2 159.5,610.5 153.0,608.8" fill="#cc4c02"/>
<polygon points="125.0,726.2 138.8,725.0 140.0,738.8 135.0,743.8 123.8,743.8 123.0,735.0" fill="#cc4c02"/>
<polygon points="127.5,728.8 133.8,728.8 134.5,736.2 128.8,737.5" fill="#993404"/>
</g>
<g clip-path="url(#cpP)">
<rect x="290" y="330" width="150" height="150" fill="#fff"/>
<polygon points="436.2,330.0 440.0,330.0 440.0,412.5 435.0,412.5 428.8,416.2 427.5,430.0 420.0,440.0 412.5,450.0 390.0,455.0 382.5,460.0 372.5,466.2 362.5,470.0 360.0,480.0 290.0,480.0 290.0,330.0" fill="#1e3cff"/>
<polygon points="437.5,330.0 433.8,335.0 431.8,340.0 431.2,362.5 426.2,392.5 425.0,405.0 420.0,407.5 420.0,415.0 413.8,420.0 412.5,427.5 407.5,430.0 405.0,435.0 395.0,437.5 390.0,441.2 385.0,442.5 383.8,447.5 367.5,448.8 366.2,453.8 361.2,455.0 360.0,462.5 353.8,465.0 352.5,470.0 348.8,472.5 347.5,480.0 290.0,480.0 290.0,330.0" fill="#fec44f"/>
<polygon points="290.0,330.0 335.0,330.0 332.5,337.5 322.5,340.0 317.5,345.0 305.0,343.8 295.0,347.5 290.0,345.0" fill="#fee391"/>
<polygon points="290.0,402.5 300.0,405.0 312.5,412.5 327.5,412.5 337.5,415.0 343.8,423.8 341.2,435.0 332.5,442.5 320.0,446.2 312.5,440.0 305.0,447.5 297.5,455.0 290.0,457.5" fill="#fee391"/>
<polygon points="425.0,362.5 428.8,345.0 433.8,335.0 431.8,340.0 431.2,362.5 426.2,392.5 425.0,405.0 420.0,407.5 415.0,405.0 417.5,395.0 421.2,380.0" fill="#fee391"/>
<polygon points="390.0,441.2 395.0,437.5 405.0,435.0 407.5,430.0 412.5,427.5 410.0,425.0 403.8,431.2 395.0,434.5 388.8,438.0" fill="#fee391"/>
<polygon points="290.0,355.0 300.0,357.5 307.5,367.5 305.0,380.0 297.5,383.8 290.0,383.8" fill="#fee391"/>
<polygon points="290.0,383.8 297.5,383.8 302.5,392.5 300.0,405.0 290.0,402.5" fill="#fee391"/>
<polygon points="290.0,455.0 297.5,455.0 305.0,447.5 310.0,455.0 307.5,465.0 305.0,480.0 290.0,480.0" fill="#fee391"/>
<polygon points="341.2,357.5 350.0,348.8 361.2,343.8 373.8,346.2 380.0,352.5 375.0,357.5 367.5,360.0 365.0,370.0 366.2,380.0 362.5,387.5 355.0,392.5 347.5,390.0 343.8,380.0 340.0,370.0" fill="#fe9929"/>
<polygon points="357.5,330.0 377.5,330.0 380.0,340.0 375.0,347.5 365.0,345.0 360.0,337.5" fill="#fe9929"/>
<polygon points="390.0,372.5 400.0,371.2 406.2,380.0 405.0,392.5 400.0,402.5 395.0,415.0 400.0,420.0 407.5,422.5 402.5,430.0 395.0,435.0 387.5,437.5 380.0,435.0 375.0,440.0 372.5,430.0 365.0,420.0 360.0,412.5 353.8,405.0 352.5,397.5 360.0,393.8 370.0,392.5 377.5,397.5 385.0,395.0 387.5,385.0" fill="#fe9929"/>
<polygon points="402.5,330.0 420.0,330.0 417.5,340.0 410.0,345.0 403.8,340.0" fill="#fe9929"/>
<polygon points="313.8,380.0 325.0,378.8 327.5,385.0 320.0,388.8 313.8,386.2" fill="#fe9929"/>
<polygon points="307.5,455.0 317.5,450.0 330.0,452.5 340.0,455.0 343.8,465.0 340.0,472.5 330.0,470.0 322.5,480.0 305.0,480.0 302.5,470.0" fill="#fe9929"/>
<polygon points="382.5,431.2 388.8,431.2 388.8,437.5 383.0,438.0" fill="#ec7014"/>
</g>
</g>
<g clip-path="url(#fr)" fill="none" stroke="#000" stroke-width="1" stroke-linejoin="round" shape-rendering="crispEdges">
<polyline points="43.0,87.5 47.5,85.0 51.2,90.0 57.5,91.2 63.8,87.5 70.0,89.5 77.5,87.5 82.5,91.2 90.0,93.8 97.5,95.0 102.5,91.2 106.2,85.0 108.8,75.0 112.5,68.8 120.0,65.0 127.5,62.5 135.0,61.2 140.0,60.0 142.5,65.0 140.0,75.0 142.5,85.0 147.5,87.5 150.0,80.0 147.5,70.0 145.0,63.8 150.0,58.8 157.5,57.5 162.5,61.2 170.0,57.5 180.0,63.8 190.0,66.2"/>
<polyline points="43.0,100.0 50.0,103.8 55.0,108.8 60.0,105.0 65.0,110.0 70.0,103.8 75.0,97.5 80.0,96.2 86.2,97.5 90.0,102.5 93.8,112.5 92.5,125.0 93.8,135.0 92.5,145.0 87.5,160.0 83.8,167.5 80.0,175.0 75.0,182.5 71.2,190.0 68.8,197.5 65.0,205.0 63.8,212.5 66.2,217.5 70.0,220.0 71.2,225.0 67.5,230.0 66.2,237.5 68.8,242.5 72.5,247.5 75.0,250.0"/>
<polyline points="93.8,98.8 100.0,103.8 96.2,97.5"/>
<polyline points="133.8,73.8 135.0,82.5 131.2,87.5 136.2,91.2 138.8,97.5 138.8,107.5 142.5,112.5 157.5,112.5 165.0,121.2 175.0,122.5 183.8,121.2 180.0,130.0 181.2,145.0 180.0,152.5 183.8,160.0 186.2,167.5 185.0,170.0 177.5,169.5 162.5,171.2 162.5,180.0 167.5,181.2 160.0,183.8 160.0,193.8 163.8,197.5 165.0,210.0 162.5,220.0 158.8,225.0 155.0,235.0 160.0,236.2"/>
<polyline points="81.2,175.0 90.0,180.0 97.5,186.2 105.0,186.2 108.8,190.0 112.5,191.2 113.8,197.5 110.0,205.0 106.2,212.5 100.0,220.0 90.0,225.0 83.8,230.0 81.2,237.5 78.8,245.0 75.0,242.5 70.0,240.0 66.2,237.5"/>
<polyline points="112.5,191.2 117.5,195.0 121.2,201.2 127.5,205.0 130.0,212.5 133.8,216.2 142.5,215.0 148.8,213.8 157.5,217.5 160.0,225.0 157.5,236.2 153.8,237.5 145.0,240.0 138.8,243.8 133.8,247.5 130.0,250.0"/>
<polyline points="47.5,93.8 51.2,96.2 48.8,98.8"/>
<polyline points="55.0,106.2 58.8,103.8 60.0,107.5"/>
<polyline points="70.0,87.5 73.8,90.0 71.2,92.5"/>
<polyline points="83.8,96.2 87.5,100.0 85.0,103.8"/>
<polyline points="190.0,71.2 197.5,73.8 205.0,75.0 212.5,70.0 220.0,73.8 227.5,75.0 232.5,80.0 240.0,77.5 243.8,82.5 241.2,90.0 245.0,95.0 251.2,98.8 257.5,103.8 262.5,112.5 265.0,118.8 275.0,122.5 282.5,125.0 290.0,123.8 295.0,127.5 293.8,135.0 297.5,140.0 300.0,132.5 302.5,125.0 310.0,127.5 317.5,132.5 325.0,142.5 328.8,150.0 332.5,160.0 335.0,167.5 337.5,172.5 340.0,175.0"/>
<polyline points="251.2,98.8 245.0,103.8 243.8,112.5 240.0,116.2 238.8,125.0 243.8,130.0 250.0,132.5 248.8,138.8 252.5,142.5 250.0,150.0 250.0,162.5 252.5,170.0 258.8,175.0 261.2,177.5 262.5,190.0 263.8,200.0 272.5,210.0 278.8,213.8 283.8,212.5"/>
<polyline points="250.0,133.8 243.8,137.5 237.5,143.8 230.0,145.0 222.5,148.8 220.0,146.2 215.0,143.8 207.5,143.8 213.8,150.0 216.2,160.0 220.0,165.0 215.0,167.5 207.5,172.5 202.5,177.5 197.5,182.5 192.5,180.0 190.0,181.2"/>
<polyline points="220.0,165.0 223.8,167.5 226.2,175.0 227.5,190.0 230.0,200.0 235.0,206.2 237.5,197.5 243.8,200.0"/>
<polyline points="276.2,123.8 268.8,137.5 270.0,150.0 276.2,160.0 277.5,167.5 285.0,168.8 286.2,162.5"/>
<polyline points="277.5,167.5 272.5,170.0 262.5,175.0 258.8,176.2 260.0,187.5 250.0,188.8 248.8,195.0"/>
<polyline points="300.0,132.5 302.5,145.0 303.8,155.0 297.5,162.5 300.0,165.0 303.8,172.5 310.0,175.0 312.5,182.5 317.5,192.5 317.5,200.0 320.0,205.0"/>
<polyline points="320.0,153.8 317.5,160.0 313.8,165.0 310.0,166.2 302.5,172.5"/>
<polyline points="222.5,105.0 224.5,107.5 223.0,111.2 225.0,112.5"/>
<polyline points="296.2,213.8 298.8,212.5 299.2,215.5 296.8,216.0 296.2,213.8"/>
<polyline points="277.5,225.0 275.0,237.5 272.5,250.0"/>
<polyline points="320.0,205.0 326.2,200.0 330.0,192.5 335.0,190.0 340.0,187.5"/>
<polyline points="322.5,210.0 328.8,205.0 333.8,200.0 340.0,197.5"/>
<polyline points="326.2,212.5 332.5,207.5 337.5,210.0 340.0,205.0"/>
<polyline points="330.0,196.2 332.5,202.5 336.2,201.2 335.0,195.0"/>
<polyline points="340.0,187.5 351.2,192.5 355.0,200.0 357.5,197.5 367.5,200.0 373.8,203.8 380.0,208.8 383.8,203.8 386.2,212.5 387.5,222.5 391.2,220.0 400.0,216.2 402.5,220.0 407.5,222.5 411.2,221.2 427.5,222.0 433.8,225.0 440.0,232.5 447.5,240.0 457.5,245.0 465.0,247.5 470.0,250.0"/>
<polyline points="343.8,190.0 350.0,200.0 345.0,210.0 342.5,220.0 340.0,222.5"/>
<polyline points="340.0,200.0 345.0,202.5 342.5,207.5"/>
<polyline points="372.5,201.2 371.2,212.5 370.0,222.5 365.0,235.0 357.5,242.5 352.5,250.0"/>
<polyline points="407.5,222.5 406.2,230.0"/>
<polyline points="402.5,236.2 403.8,250.0"/>
<polyline points="416.2,222.5 418.8,235.0 421.2,247.5 422.5,250.0"/>
<polyline points="450.0,243.8 451.2,250.0"/>
<polyline points="61.2,250.0 61.2,257.5 70.0,262.5 75.0,275.0 81.2,287.5 85.0,295.0 88.8,307.5 92.5,317.5 98.8,327.5 103.8,340.0 105.0,350.0 108.8,357.5 115.0,362.5 125.0,367.5 135.0,375.0 145.0,382.5 152.5,388.8 157.5,393.8"/>
<polyline points="133.8,253.8 131.2,261.2 126.2,268.8 126.2,277.5 128.8,281.2"/>
<polyline points="126.2,270.0 142.5,276.2 165.0,286.2 187.5,298.0 190.0,298.8"/>
<polyline points="132.5,287.5 133.8,293.8 140.0,296.2"/>
<polyline points="142.5,301.2 150.0,300.0 156.2,295.0"/>
<polyline points="153.8,301.2 155.0,311.2 160.0,312.5 175.0,310.0 182.5,306.2 190.0,301.2"/>
<polyline points="163.8,312.5 167.5,318.8 171.2,327.5 170.0,335.0 170.0,350.0 168.8,355.0 165.0,360.0 162.5,367.5 167.5,372.5 161.2,386.2 158.8,393.8"/>
<polyline points="161.2,386.2 165.0,395.0"/>
<polyline points="161.2,358.8 166.2,361.2 163.8,365.0 170.0,366.2 167.5,370.0 162.5,368.8"/>
<polyline points="270.0,250.0 266.2,260.0 265.0,267.5 268.8,275.0 271.2,285.0 275.0,291.2 280.0,295.0 297.5,296.2 320.0,298.0 340.0,298.8"/>
<polyline points="265.0,267.5 264.5,287.5 237.5,288.8 231.2,286.2 225.0,280.0 220.0,279.5 213.8,285.0 212.5,290.0"/>
<polyline points="237.5,288.8 236.2,305.0"/>
<polyline points="190.0,298.8 193.8,296.2 200.0,295.0 205.0,293.8 201.2,300.0 202.5,315.0 207.5,322.5 215.0,327.5 225.0,332.5 233.8,336.2 243.8,341.2 248.8,332.5 250.0,325.0 250.0,315.0 246.2,312.5 238.8,311.2"/>
<polyline points="243.8,341.2 246.2,346.2 245.0,355.0 248.8,365.0 256.2,370.0 263.8,372.5 265.0,380.0 270.0,387.5 272.5,400.0 270.0,410.0 267.5,422.5 270.0,435.0 285.0,436.2"/>
<polyline points="340.0,292.5 336.2,302.5 333.8,315.0 335.0,325.0"/>
<polyline points="272.5,385.0 282.5,380.0"/>
<polyline points="237.5,406.2 255.0,405.0 265.0,406.2 267.5,410.0"/>
<polyline points="232.5,445.0 235.0,450.0"/>
<polyline points="353.8,250.0 351.2,260.0 347.5,270.0 345.0,282.5 341.2,291.2 340.0,292.5"/>
<polyline points="361.2,250.0 360.0,260.0 362.5,270.0 367.5,277.5 371.2,282.5 366.2,290.0 368.8,297.5 375.0,303.8 371.2,312.5 373.8,322.5"/>
<polyline points="403.8,250.0 402.5,260.0 398.8,263.8 390.0,267.5 381.2,273.8 377.5,282.5 376.2,291.2 378.8,300.0 382.5,308.8 386.2,311.2 392.5,306.2 395.0,300.0 398.8,295.0 406.2,296.2 415.0,290.0 420.0,287.5 420.0,281.2 425.0,275.0 427.5,265.0 426.2,257.5 427.5,250.0"/>
<polyline points="420.0,287.5 423.8,293.8 430.0,287.5 435.0,285.0"/>
<polyline points="423.8,273.8 433.8,272.5"/>
<polyline points="450.0,255.0 442.5,261.2 440.0,268.8 446.2,271.2 455.0,267.5 465.0,265.0 467.5,261.2"/>
<polyline points="440.0,268.8 441.2,275.0 447.5,275.0 453.8,271.2 458.8,267.5"/>
<polyline points="441.2,288.8 447.5,293.8 457.5,291.2 467.5,288.8 472.5,287.5"/>
<polyline points="452.5,277.5 456.2,282.5 457.5,278.8"/>
<polyline points="447.5,293.8 448.8,300.0 452.5,303.8 457.5,306.2 465.0,303.8"/>
<polyline points="445.0,313.8 450.0,317.5 456.2,313.8"/>
<polyline points="472.5,250.0 476.2,260.0 476.2,272.5 475.0,287.5 470.0,297.5 462.5,306.2 455.0,315.0 447.5,322.5 441.2,330.0"/>
<polyline points="157.5,400.0 158.8,415.0 156.2,430.0 157.5,445.0 155.0,462.5 152.5,482.5 148.8,500.0 146.2,512.5 147.5,525.0 145.0,540.0 146.2,555.0 142.5,570.0 138.8,585.0"/>
<polyline points="172.5,400.0 171.2,410.0 175.0,420.0 178.8,430.0 181.2,442.5 186.2,443.8 187.5,440.0 195.0,431.2 200.0,435.0 210.0,435.0 211.2,442.5 215.0,435.0 225.0,433.8 227.5,425.0 230.0,415.0"/>
<polyline points="181.2,442.5 187.5,446.2 182.5,455.0 175.0,460.0 172.5,467.5 175.0,477.5 173.8,487.5 168.8,497.5 166.2,507.5 161.2,517.5 158.8,530.0 161.2,540.0 158.8,550.0 161.2,560.0 158.8,572.5 157.5,585.0"/>
<polyline points="225.0,433.8 228.8,440.0 232.5,447.5"/>
<polyline points="223.8,530.0 227.5,527.5 231.2,530.0 228.8,532.5 225.0,532.0"/>
<polyline points="240.0,452.5 252.5,458.8 265.0,467.5"/>
<polyline points="272.5,472.5 270.0,477.5 266.2,482.5 265.0,486.2"/>
<polyline points="262.5,492.5 272.5,493.8 278.8,496.2 280.0,491.2"/>
<polyline points="306.2,487.5 300.0,492.5 295.0,496.2 296.2,498.8"/>
<polyline points="306.2,487.5 312.5,491.2 320.0,492.5 330.0,497.5 335.0,503.8 340.0,506.2"/>
<polyline points="312.5,482.5 322.5,483.8"/>
<polyline points="283.8,493.8 288.8,492.5 292.5,487.5"/>
<polyline points="290.0,501.2 286.2,506.2 283.8,511.2 280.0,515.0"/>
<polyline points="276.2,520.0 272.5,523.8 268.8,530.0 267.5,537.5 266.2,550.0 265.0,557.5 263.8,563.8"/>
<polyline points="275.0,522.5 278.8,525.0 281.2,527.5 283.8,530.0 290.0,532.5 295.0,537.5 298.8,538.8"/>
<polyline points="340.0,512.5 336.2,516.2 332.5,522.5 328.8,527.5 325.0,532.5 321.2,537.5 320.0,545.0 315.0,547.5 310.0,550.0 306.2,557.5 303.8,563.8 300.0,570.0 290.0,572.5 280.0,573.8 272.5,570.0 267.5,567.5 263.8,563.8 262.5,570.0 267.5,575.0 272.5,580.0 275.0,585.0 276.2,595.0 277.5,602.5 272.5,610.0 265.0,615.0 255.0,617.5 245.0,620.0"/>
<polyline points="330.0,525.0 333.8,527.5 331.2,532.5 326.2,536.2 327.5,540.0 322.5,543.8"/>
<polyline points="278.8,552.5 286.2,550.0 290.0,551.2 283.8,553.8 278.8,555.0"/>
<polyline points="307.5,548.8 312.5,555.0 310.0,560.0 315.0,561.2"/>
<polyline points="351.2,485.0 352.5,497.5 350.0,505.0 345.0,510.0 340.0,512.5"/>
<polyline points="350.0,505.0 351.2,508.8"/>
<polyline points="151.2,600.0 150.0,610.0 151.2,618.8 148.0,625.0 146.2,632.5 144.5,645.0 143.8,657.5 144.5,667.5 141.2,670.0 143.0,675.0 146.2,682.5 143.8,687.5 148.8,686.2 147.0,692.5 148.0,700.0 146.2,703.8 137.5,705.0 136.2,711.2 142.5,708.8 143.8,715.0 141.2,720.0 136.2,722.5 137.5,730.0 132.5,727.5 133.8,735.0 140.0,737.5 135.0,741.2"/>
<polyline points="128.8,600.0 127.5,610.0 130.0,617.5 126.2,625.0 127.5,635.0 125.0,642.5 128.8,647.5 125.0,652.5 130.0,656.2 127.5,662.5 132.5,660.0 130.0,667.5 126.2,672.5 121.2,675.0 123.8,680.0 118.8,683.8 125.0,686.2 120.0,690.0 127.5,691.2 122.5,696.2 128.8,698.8 121.2,702.5 115.0,705.0 120.0,710.0 113.8,712.5 122.5,713.8 117.5,718.8 125.0,720.0 120.0,725.0 112.5,727.5 118.8,731.2 111.2,735.0 120.0,736.2 113.8,740.0 121.2,742.5 115.0,746.2"/>
<polyline points="133.8,642.5 137.5,650.0 133.8,653.8 138.8,657.5 135.0,662.5 131.2,667.5 133.8,675.0 130.0,680.0 133.8,685.0 127.5,688.8 131.2,695.0 125.0,700.0 128.8,705.0 123.8,710.0 127.5,715.0 121.2,717.5 125.0,723.8 117.5,726.2 122.5,730.0 116.2,733.8 122.5,737.5 117.5,741.2 123.8,745.0"/>
<polyline points="122.5,675.0 127.5,677.5 121.2,681.2 126.2,683.8 122.5,687.5 117.5,688.8 123.8,692.5 118.8,695.0 125.0,697.5 117.5,700.0 122.5,703.8 116.2,707.5 123.8,707.5 118.8,711.2 125.0,712.5 115.0,716.2 121.2,721.2 113.8,722.5 120.0,727.5 115.0,730.0 121.2,733.8 115.0,737.5 122.5,740.0 116.2,743.8"/>
<polyline points="125.0,682.5 130.0,686.2 123.8,690.0 128.8,693.8 126.2,701.2 120.0,705.0 126.2,710.0 120.0,715.0 123.8,718.8 116.2,720.0 122.5,725.0 116.2,728.8 123.8,732.5 117.5,736.2 125.0,738.8 118.8,742.5"/>
<polyline points="240.0,621.2 232.5,623.8 230.0,630.0 225.0,633.8 215.0,636.2 207.5,640.0 205.0,646.2 208.8,650.0 206.2,657.5 213.8,658.8 216.2,656.2"/>
<polyline points="207.5,662.5 203.8,670.0 200.0,675.0 196.2,680.0 192.5,686.2 185.0,690.0 181.2,696.2 182.5,705.0 186.2,710.0 195.0,712.5 197.5,717.5 195.0,723.8 188.8,726.2 180.0,730.0 175.0,736.2 172.5,746.2"/>
<polyline points="170.0,692.5 172.5,693.0 173.0,696.2 170.5,695.8 170.0,692.5"/>
<polyline points="333.8,330.0 332.5,340.0 327.5,355.0 322.5,357.5 317.5,367.5 311.2,375.0 310.0,385.0 312.5,392.5 322.5,397.5 330.0,403.8 331.2,410.0 327.5,416.2 322.5,423.8 320.0,432.5 313.8,440.0 307.5,442.5 306.2,450.0 302.5,460.0 301.2,470.0 297.5,480.0"/>
<polyline points="290.0,383.8 297.5,383.0 305.0,381.2 306.2,388.8 310.0,385.0"/>
<polyline points="330.0,403.8 335.0,398.8 342.5,395.5 350.0,394.5 356.2,388.8 361.2,383.8 363.8,376.2 361.2,370.0 364.2,368.2"/>
<polyline points="354.5,362.5 364.2,362.5 364.2,368.2 354.5,368.2 354.5,362.5"/>
<polyline points="364.2,362.5 367.5,356.2 376.2,352.5 383.8,350.0 391.2,348.8 397.5,353.8"/>
<polyline points="402.5,353.8 410.0,357.5 415.0,361.2"/>
<polyline points="421.2,363.8 428.8,368.8 427.5,377.5 425.0,387.5 418.8,390.0 417.5,397.5 420.0,402.5 416.2,407.5 422.5,406.2"/>
<polyline points="331.2,410.0 340.0,412.5 348.8,413.8 362.5,412.5 367.5,416.2 365.0,422.5 368.8,428.8 372.5,437.5 373.8,443.8 378.8,441.2 386.2,440.0 390.0,437.5 397.5,433.8"/>
<polyline points="367.5,416.2 376.2,418.8 380.0,425.0 376.2,427.5 372.5,422.5"/>
<polyline points="437.5,362.5 435.0,392.5 433.8,405.0 431.2,412.5 427.5,417.5 422.5,425.0 418.8,432.5 412.5,437.5 405.0,440.0 395.0,442.5 390.0,446.2 385.0,447.5 381.2,452.5 370.0,453.8 365.0,457.5 361.2,461.2 356.2,466.2 352.5,473.8 351.2,480.0"/>
<polyline points="412.5,421.2 410.0,428.8 405.0,435.0"/>
<polyline points="320.0,440.0 330.0,442.5 340.0,445.0 343.8,455.0 346.2,460.0 351.2,466.2"/>
<polyline points="333.8,330.0 340.0,333.8 348.8,332.5 355.0,336.2 362.5,337.5 370.0,335.0 373.8,330.0"/>
<polyline points="380.0,393.8 383.8,396.2 382.0,400.0 385.0,398.8"/>
<polyline points="347.5,447.5 352.5,449.5 350.0,451.2"/>
<polyline points="353.8,440.0 357.0,441.2"/>
<polyline points="63.0,564.5 64.2,563.0 65.0,564.0"/>
<polyline points="78.8,563.0 80.5,562.2 81.8,563.2 79.5,563.8"/>
<polyline points="127.5,675.0 131.2,678.8 125.0,683.8 130.0,687.5 123.8,691.2 127.5,696.2 120.0,698.8 126.2,702.5 118.8,706.2 125.0,711.2 117.5,713.8 123.8,717.5 116.2,721.2 122.5,726.2 115.0,728.8 121.2,732.5 113.8,736.2 121.2,740.0 115.0,743.8"/>
<polyline points="131.2,672.5 127.5,676.2 132.5,681.2 127.5,685.0 131.2,690.0 126.2,693.8 130.0,698.8 123.8,702.5 127.5,707.5 121.2,711.2 126.2,716.2 120.0,720.0 125.0,725.0 118.8,728.8 123.8,733.8 117.5,737.5 122.5,741.2"/>
<polyline points="120.0,702.5 127.5,700.0 125.0,705.0 130.0,707.5 122.5,710.0 127.5,712.5 120.0,716.2 126.2,718.8 121.2,722.5 127.5,725.0 118.8,726.2 125.0,730.0 120.0,735.0 125.0,737.5 118.8,740.0 123.8,743.8"/>
<polyline points="325.0,200.0 330.0,196.2 333.8,200.0 337.5,196.2 340.0,200.0"/>
<polyline points="323.8,206.2 328.8,202.5 332.5,207.5 337.5,203.8 340.0,207.5"/>
<polyline points="326.2,212.5 331.2,208.8 336.2,213.8 340.0,211.2"/>
<polyline points="327.5,193.8 331.2,190.0 335.0,193.8 338.8,190.0"/>
<polyline points="330.0,200.0 331.2,206.2 335.0,210.0 337.5,215.0"/>
<polyline points="340.0,192.5 343.8,196.2 341.2,200.0 345.0,203.8 341.2,207.5 343.8,212.5 340.0,215.0"/>
<polyline points="46.2,90.0 50.0,93.8 47.5,97.5 52.5,100.0"/>
<polyline points="57.5,100.0 61.2,103.8 65.0,101.2 67.5,106.2"/>
<polyline points="77.5,92.5 81.2,90.0 83.8,95.0 80.0,97.5"/>
<polyline points="87.5,96.2 91.2,100.0 93.8,106.2 97.5,102.5 100.0,107.5"/>
</g>
<g stroke="#969696" stroke-width="1" stroke-dasharray="2,4.4" shape-rendering="crispEdges">
<line x1="70.5" y1="56" x2="70.5" y2="744"/>
<line x1="115.3" y1="56" x2="115.3" y2="744"/>
<line x1="160.1" y1="56" x2="160.1" y2="744"/>
<line x1="204.8" y1="56" x2="204.8" y2="744"/>
<line x1="249.6" y1="56" x2="249.6" y2="744"/>
<line x1="294.4" y1="56" x2="294.4" y2="744"/>
<line x1="339.2" y1="56" x2="339.2" y2="744"/>
<line x1="384.0" y1="56" x2="384.0" y2="744"/>
<line x1="428.7" y1="56" x2="428.7" y2="744"/>
<line x1="473.5" y1="56" x2="473.5" y2="744"/>
<line x1="518.3" y1="56" x2="518.3" y2="744"/>
<line x1="44" y1="79.3" x2="555" y2="79.3"/>
<line x1="44" y1="134.8" x2="555" y2="134.8"/>
<line x1="44" y1="190.2" x2="555" y2="190.2"/>
<line x1="44" y1="245.7" x2="555" y2="245.7"/>
<line x1="44" y1="301.2" x2="555" y2="301.2"/>
<line x1="44" y1="356.7" x2="555" y2="356.7"/>
<line x1="44" y1="412.2" x2="555" y2="412.2"/>
<line x1="44" y1="467.6" x2="555" y2="467.6"/>
<line x1="44" y1="523.1" x2="555" y2="523.1"/>
<line x1="44" y1="578.6" x2="555" y2="578.6"/>
<line x1="44" y1="634.0" x2="555" y2="634.0"/>
<line x1="44" y1="689.5" x2="555" y2="689.5"/>
<line x1="44" y1="745.0" x2="555" y2="745.0"/>
</g>
<rect x="43" y="55" width="513" height="690" fill="none" stroke="#000" stroke-width="2" shape-rendering="crispEdges"/>
<g stroke="#000" stroke-width="1" shape-rendering="crispEdges">
<line x1="70.5" y1="746" x2="70.5" y2="750"/>
<line x1="115.3" y1="746" x2="115.3" y2="750"/>
<line x1="160.1" y1="746" x2="160.1" y2="750"/>
<line x1="204.8" y1="746" x2="204.8" y2="750"/>
<line x1="249.6" y1="746" x2="249.6" y2="750"/>
<line x1="294.4" y1="746" x2="294.4" y2="750"/>
<line x1="339.2" y1="746" x2="339.2" y2="750"/>
<line x1="384.0" y1="746" x2="384.0" y2="750"/>
<line x1="428.7" y1="746" x2="428.7" y2="750"/>
<line x1="473.5" y1="746" x2="473.5" y2="750"/>
<line x1="518.3" y1="746" x2="518.3" y2="750"/>
<line x1="39" y1="79.3" x2="42" y2="79.3"/>
<line x1="39" y1="134.8" x2="42" y2="134.8"/>
<line x1="39" y1="190.2" x2="42" y2="190.2"/>
<line x1="39" y1="245.7" x2="42" y2="245.7"/>
<line x1="39" y1="301.2" x2="42" y2="301.2"/>
<line x1="39" y1="356.7" x2="42" y2="356.7"/>
<line x1="39" y1="412.2" x2="42" y2="412.2"/>
<line x1="39" y1="467.6" x2="42" y2="467.6"/>
<line x1="39" y1="523.1" x2="42" y2="523.1"/>
<line x1="39" y1="578.6" x2="42" y2="578.6"/>
<line x1="39" y1="634.0" x2="42" y2="634.0"/>
<line x1="39" y1="689.5" x2="42" y2="689.5"/>
<line x1="39" y1="745.0" x2="42" y2="745.0"/>
</g>
<g shape-rendering="crispEdges">
<polygon points="60.5,780.5 108.5,773.5 108.5,787.5" fill="#00441b" stroke="#000" stroke-width="0.8" shape-rendering="auto"/>
<rect x="108.5" y="773.5" width="48" height="14" fill="#41ab5d" stroke="#000" stroke-width="1"/>
<rect x="156.5" y="773.5" width="48" height="14" fill="#a1d99b" stroke="#000" stroke-width="1"/>
<rect x="204.5" y="773.5" width="48" height="14" fill="#fee391" stroke="#000" stroke-width="1"/>
<rect x="252.5" y="773.5" width="48" height="14" fill="#fec44f" stroke="#000" stroke-width="1"/>
<rect x="300.5" y="773.5" width="48" height="14" fill="#fe9929" stroke="#000" stroke-width="1"/>
<rect x="348.5" y="773.5" width="48" height="14" fill="#ec7014" stroke="#000" stroke-width="1"/>
<rect x="396.5" y="773.5" width="48" height="14" fill="#cc4c02" stroke="#000" stroke-width="1"/>
<rect x="444.5" y="773.5" width="48" height="14" fill="#993404" stroke="#000" stroke-width="1"/>
<polygon points="540.5,780.5 492.5,773.5 492.5,787.5" fill="#662506" stroke="#000" stroke-width="0.8" shape-rendering="auto"/>
</g>
<g class="lbl">
<text x="57.0" y="765" textLength="28" lengthAdjust="spacingAndGlyphs">80W</text>
<text x="101.8" y="765" textLength="28" lengthAdjust="spacingAndGlyphs">75W</text>
<text x="146.6" y="765" textLength="28" lengthAdjust="spacingAndGlyphs">70W</text>
<text x="191.3" y="765" textLength="28" lengthAdjust="spacingAndGlyphs">65W</text>
<text x="236.1" y="765" textLength="28" lengthAdjust="spacingAndGlyphs">60W</text>
<text x="280.9" y="765" textLength="28" lengthAdjust="spacingAndGlyphs">55W</text>
<text x="325.7" y="765" textLength="28" lengthAdjust="spacingAndGlyphs">50W</text>
<text x="370.5" y="765" textLength="28" lengthAdjust="spacingAndGlyphs">45W</text>
<text x="415.2" y="765" textLength="28" lengthAdjust="spacingAndGlyphs">40W</text>
<text x="460.0" y="765" textLength="28" lengthAdjust="spacingAndGlyphs">35W</text>
<text x="504.8" y="765" textLength="28" lengthAdjust="spacingAndGlyphs">30W</text>
<text x="9.2" y="86.3" textLength="28.0" lengthAdjust="spacingAndGlyphs">10N</text>
<text x="17.2" y="141.8" textLength="20.0" lengthAdjust="spacingAndGlyphs">5N</text>
<text x="17.2" y="197.2" textLength="20.0" lengthAdjust="spacingAndGlyphs">EQ</text>
<text x="17.2" y="252.7" textLength="20.0" lengthAdjust="spacingAndGlyphs">5S</text>
<text x="9.2" y="308.2" textLength="28.0" lengthAdjust="spacingAndGlyphs">10S</text>
<text x="9.2" y="363.7" textLength="28.0" lengthAdjust="spacingAndGlyphs">15S</text>
<text x="9.2" y="419.2" textLength="28.0" lengthAdjust="spacingAndGlyphs">20S</text>
<text x="9.2" y="474.6" textLength="28.0" lengthAdjust="spacingAndGlyphs">25S</text>
<text x="9.2" y="530.1" textLength="28.0" lengthAdjust="spacingAndGlyphs">30S</text>
<text x="9.2" y="585.6" textLength="28.0" lengthAdjust="spacingAndGlyphs">35S</text>
<text x="9.2" y="641.0" textLength="28.0" lengthAdjust="spacingAndGlyphs">40S</text>
<text x="9.2" y="696.5" textLength="28.0" lengthAdjust="spacingAndGlyphs">45S</text>
<text x="9.2" y="752.0" textLength="28.0" lengthAdjust="spacingAndGlyphs">50S</text>
<text x="100.0" y="804.3" textLength="18.0" lengthAdjust="spacingAndGlyphs">50</text>
<text x="144.2" y="804.3" textLength="25.5" lengthAdjust="spacingAndGlyphs">100</text>
<text x="192.2" y="804.3" textLength="25.5" lengthAdjust="spacingAndGlyphs">200</text>
<text x="240.2" y="804.3" textLength="25.5" lengthAdjust="spacingAndGlyphs">500</text>
<text x="288.2" y="804.3" textLength="25.5" lengthAdjust="spacingAndGlyphs">800</text>
<text x="332.2" y="804.3" textLength="33.5" lengthAdjust="spacingAndGlyphs">1200</text>
<text x="380.2" y="804.3" textLength="33.5" lengthAdjust="spacingAndGlyphs">1800</text>
<text x="428.2" y="804.3" textLength="33.5" lengthAdjust="spacingAndGlyphs">2500</text>
<text x="476.2" y="804.3" textLength="33.5" lengthAdjust="spacingAndGlyphs">4000</text>
</g>
<text class="ttl" y="45"><tspan x="156.5" textLength="116" lengthAdjust="spacingAndGlyphs">Topografia</tspan> <tspan x="283.5" textLength="36" lengthAdjust="spacingAndGlyphs">Eta</tspan> <tspan x="326.5" textLength="63" lengthAdjust="spacingAndGlyphs">40km</tspan> <tspan x="403.5" textLength="42.5" lengthAdjust="spacingAndGlyphs">(m)</tspan></text>
</svg>
</body></html>
